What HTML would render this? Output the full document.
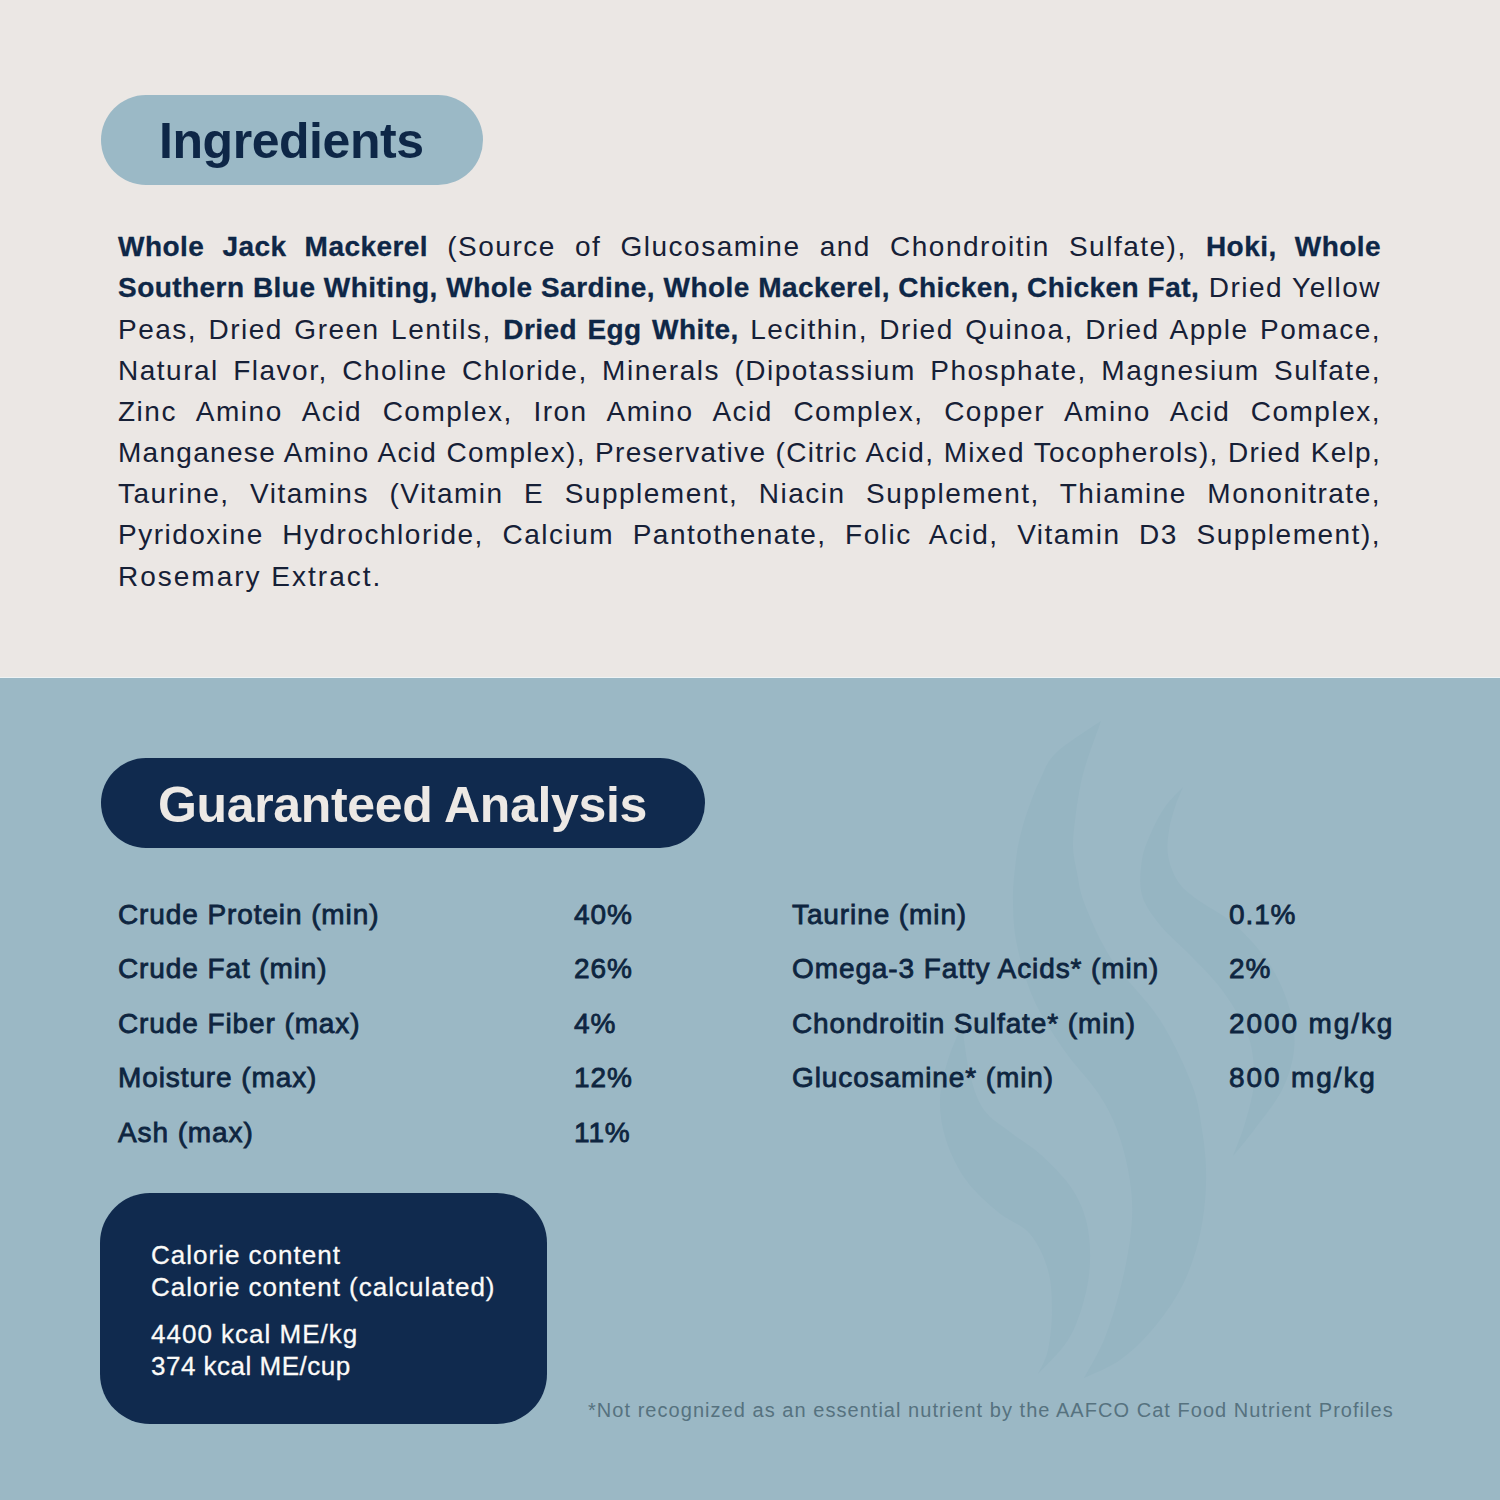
<!DOCTYPE html>
<html><head><meta charset="utf-8">
<style>
*{margin:0;padding:0;box-sizing:border-box}
html,body{width:1500px;height:1500px;overflow:hidden}
body{position:relative;font-family:"Liberation Sans",sans-serif;background:#9bb8c5}
#top{position:absolute;left:0;top:0;width:1500px;height:678px;background:#ebe7e4}
#bot{position:absolute;left:0;top:678px;width:1500px;height:822px;background:#9bb8c5}
#ln{position:absolute;left:0;top:677px;width:1500px;height:1px;background:#eef3f4}
.pill{position:absolute;border-radius:45px}
.t{position:absolute;white-space:nowrap;line-height:1}
.p{position:absolute;left:118px;width:1263px;font-size:28px;line-height:1;color:#162036;text-align:justify;text-align-last:justify;white-space:nowrap;letter-spacing:1.5px}
.p b{color:#0e2747;letter-spacing:0.45px;-webkit-text-stroke:0.3px #0e2747}
.row{position:absolute;font-size:28px;line-height:1;color:#0e2540;white-space:nowrap;-webkit-text-stroke:0.8px #0e2540;letter-spacing:0.9px}
.cal{position:absolute;left:151px;font-size:26px;line-height:1;color:#fbfaf8;white-space:nowrap;letter-spacing:1px;-webkit-text-stroke:0.3px #fbfaf8}
</style></head><body>
<div id="top"></div>
<div id="bot"></div>
<div id="ln"></div>
<svg style="position:absolute;left:0;top:0" width="1500" height="1500" viewBox="0 0 1500 1500">
  <g fill="#96b5c2">
    <path d="M1101.0 721.0 C1093.5 726.3 1066.2 743.2 1056.0 753.0 C1045.8 762.8 1044.5 771.0 1040.0 780.0 C1035.5 789.0 1032.2 798.2 1029.0 807.0 C1025.8 815.8 1023.2 824.2 1021.0 833.0 C1018.8 841.8 1017.3 848.8 1016.0 860.0 C1014.7 871.2 1012.8 885.8 1013.0 900.0 C1013.2 914.2 1013.5 928.3 1017.0 945.0 C1020.5 961.7 1026.2 982.5 1034.0 1000.0 C1041.8 1017.5 1053.7 1035.0 1064.0 1050.0 C1074.3 1065.0 1087.7 1078.0 1096.0 1090.0 C1104.3 1102.0 1109.0 1110.3 1114.0 1122.0 C1119.0 1133.7 1123.0 1147.0 1126.0 1160.0 C1129.0 1173.0 1131.3 1186.7 1132.0 1200.0 C1132.7 1213.3 1132.0 1225.0 1130.0 1240.0 C1128.0 1255.0 1124.3 1273.3 1120.0 1290.0 C1115.7 1306.7 1110.0 1325.3 1104.0 1340.0 C1098.0 1354.7 1087.3 1371.7 1084.0 1378.0 C1090.0 1375.0 1108.7 1368.0 1120.0 1360.0 C1131.3 1352.0 1142.0 1341.7 1152.0 1330.0 C1162.0 1318.3 1172.7 1303.3 1180.0 1290.0 C1187.3 1276.7 1192.0 1263.3 1196.0 1250.0 C1200.0 1236.7 1202.3 1223.3 1204.0 1210.0 C1205.7 1196.7 1206.3 1183.3 1206.0 1170.0 C1205.7 1156.7 1204.3 1144.2 1202.0 1130.0 C1199.7 1115.8 1199.0 1103.3 1192.0 1085.0 C1185.0 1066.7 1173.3 1040.8 1160.0 1020.0 C1146.7 999.2 1124.5 979.2 1112.0 960.0 C1099.5 940.8 1090.8 919.5 1085.0 905.0 C1079.2 890.5 1079.0 882.7 1077.0 873.0 C1075.0 863.3 1073.3 855.8 1073.0 847.0 C1072.7 838.2 1074.0 829.0 1075.0 820.0 C1076.0 811.0 1077.3 801.8 1079.0 793.0 C1080.7 784.2 1081.3 779.0 1085.0 767.0 C1088.7 755.0 1098.3 728.7 1101.0 721.0 Z"/>
    <path d="M962.0 1025.0 C959.7 1030.8 951.7 1047.5 948.0 1060.0 C944.3 1072.5 940.3 1086.7 940.0 1100.0 C939.7 1113.3 941.7 1126.7 946.0 1140.0 C950.3 1153.3 957.3 1168.0 966.0 1180.0 C974.7 1192.0 987.3 1203.0 998.0 1212.0 C1008.7 1221.0 1021.7 1224.3 1030.0 1234.0 C1038.3 1243.7 1044.3 1257.3 1048.0 1270.0 C1051.7 1282.7 1052.0 1296.7 1052.0 1310.0 C1052.0 1323.3 1050.3 1339.3 1048.0 1350.0 C1045.7 1360.7 1039.7 1370.0 1038.0 1374.0 C1043.0 1368.3 1060.3 1352.3 1068.0 1340.0 C1075.7 1327.7 1080.3 1313.3 1084.0 1300.0 C1087.7 1286.7 1089.7 1273.3 1090.0 1260.0 C1090.3 1246.7 1089.3 1232.3 1086.0 1220.0 C1082.7 1207.7 1077.7 1197.0 1070.0 1186.0 C1062.3 1175.0 1050.0 1163.0 1040.0 1154.0 C1030.0 1145.0 1019.3 1139.3 1010.0 1132.0 C1000.7 1124.7 990.7 1119.5 984.0 1110.0 C977.3 1100.5 973.7 1089.2 970.0 1075.0 C966.3 1060.8 963.3 1033.3 962.0 1025.0 Z"/>
    <path d="M1183.0 787.0 C1180.0 790.3 1170.3 799.3 1165.0 807.0 C1159.7 814.7 1154.8 824.2 1151.0 833.0 C1147.2 841.8 1143.5 849.7 1142.0 860.0 C1140.5 870.3 1139.0 884.2 1142.0 895.0 C1145.0 905.8 1152.0 915.0 1160.0 925.0 C1168.0 935.0 1179.7 944.2 1190.0 955.0 C1200.3 965.8 1212.3 976.7 1222.0 990.0 C1231.7 1003.3 1242.7 1020.0 1248.0 1035.0 C1253.3 1050.0 1254.3 1065.8 1254.0 1080.0 C1253.7 1094.2 1249.5 1107.3 1246.0 1120.0 C1242.5 1132.7 1235.2 1150.0 1233.0 1156.0 C1236.5 1151.7 1245.8 1141.0 1254.0 1130.0 C1262.2 1119.0 1275.3 1103.3 1282.0 1090.0 C1288.7 1076.7 1292.7 1063.3 1294.0 1050.0 C1295.3 1036.7 1294.0 1024.2 1290.0 1010.0 C1286.0 995.8 1279.2 979.2 1270.0 965.0 C1260.8 950.8 1247.5 936.2 1235.0 925.0 C1222.5 913.8 1204.7 905.5 1195.0 898.0 C1185.3 890.5 1181.5 887.2 1177.0 880.0 C1172.5 872.8 1169.3 863.3 1168.0 855.0 C1166.7 846.7 1167.8 838.0 1169.0 830.0 C1170.2 822.0 1172.7 814.2 1175.0 807.0 C1177.3 799.8 1181.7 790.3 1183.0 787.0 Z"/>
  </g>
</svg>

<div class="pill" style="left:101px;top:95px;width:382px;height:90px;background:#9bb9c6"></div>
<div class="t" id="h1" style="left:159px;top:115.7px;font-size:50px;letter-spacing:-0.45px;font-weight:bold;color:#0e2747">Ingredients</div>

<div class="p" style="top:233px"><b>Whole Jack Mackerel</b> (Source of Glucosamine and Chondroitin Sulfate), <b>Hoki, Whole</b></div>
<div class="p" style="top:274px;word-spacing:-1px"><b>Southern Blue Whiting, Whole Sardine, Whole Mackerel, Chicken, Chicken Fat,</b> Dried Yellow</div>
<div class="p" style="top:316px">Peas, Dried Green Lentils, <b>Dried Egg White,</b> Lecithin, Dried Quinoa, Dried Apple Pomace,</div>
<div class="p" style="top:357px">Natural Flavor, Choline Chloride, Minerals (Dipotassium Phosphate, Magnesium Sulfate,</div>
<div class="p" style="top:398px">Zinc Amino Acid Complex, Iron Amino Acid Complex, Copper Amino Acid Complex,</div>
<div class="p" style="top:439px;letter-spacing:1.3px">Manganese Amino Acid Complex), Preservative (Citric Acid, Mixed Tocopherols), Dried Kelp,</div>
<div class="p" style="top:480px">Taurine, Vitamins (Vitamin E Supplement, Niacin Supplement, Thiamine Mononitrate,</div>
<div class="p" style="top:521px">Pyridoxine Hydrochloride, Calcium Pantothenate, Folic Acid, Vitamin D3 Supplement),</div>
<div class="p" style="top:563px;text-align:left;text-align-last:left;letter-spacing:2px">Rosemary Extract.</div>

<div class="pill" style="left:101px;top:758px;width:604px;height:90px;background:#102a4e"></div>
<div class="t" id="h2" style="left:158px;top:780px;font-size:50px;letter-spacing:-0.35px;font-weight:bold;color:#ede9e5">Guaranteed Analysis</div>

<div class="row" style="left:118px;top:900.5px">Crude Protein (min)</div>
<div class="row" style="left:118px;top:955px">Crude Fat (min)</div>
<div class="row" style="left:118px;top:1009.5px">Crude Fiber (max)</div>
<div class="row" style="left:118px;top:1064px">Moisture (max)</div>
<div class="row" style="left:118px;top:1118.5px">Ash (max)</div>
<div class="row" style="left:574px;top:900.5px">40%</div>
<div class="row" style="left:574px;top:955px">26%</div>
<div class="row" style="left:574px;top:1009.5px">4%</div>
<div class="row" style="left:574px;top:1064px">12%</div>
<div class="row" style="left:574px;top:1118.5px">11%</div>
<div class="row" style="left:792px;top:900.5px">Taurine (min)</div>
<div class="row" style="left:792px;top:955px">Omega-3 Fatty Acids* (min)</div>
<div class="row" style="left:792px;top:1009.5px">Chondroitin Sulfate* (min)</div>
<div class="row" style="left:792px;top:1064px">Glucosamine* (min)</div>
<div class="row" style="left:1229px;top:900.5px">0.1%</div>
<div class="row" style="left:1229px;top:955px">2%</div>
<div class="row" style="left:1229px;top:1009.5px;letter-spacing:1.9px">2000 mg/kg</div>
<div class="row" style="left:1229px;top:1064px;letter-spacing:1.9px">800 mg/kg</div>

<div style="position:absolute;left:100px;top:1193px;width:447px;height:231px;border-radius:50px;background:#102a4e"></div>
<div class="cal" style="top:1242px">Calorie content</div>
<div class="cal" style="top:1274px">Calorie content (calculated)</div>
<div class="cal" style="top:1321px">4400 kcal ME/kg</div>
<div class="cal" style="top:1353px;letter-spacing:0.5px">374 kcal ME/cup</div>

<div class="t" style="left:588px;top:1400px;font-size:20px;color:#56727f;letter-spacing:1.04px">*Not recognized as an essential nutrient by the AAFCO Cat Food Nutrient Profiles</div>
</body></html>
